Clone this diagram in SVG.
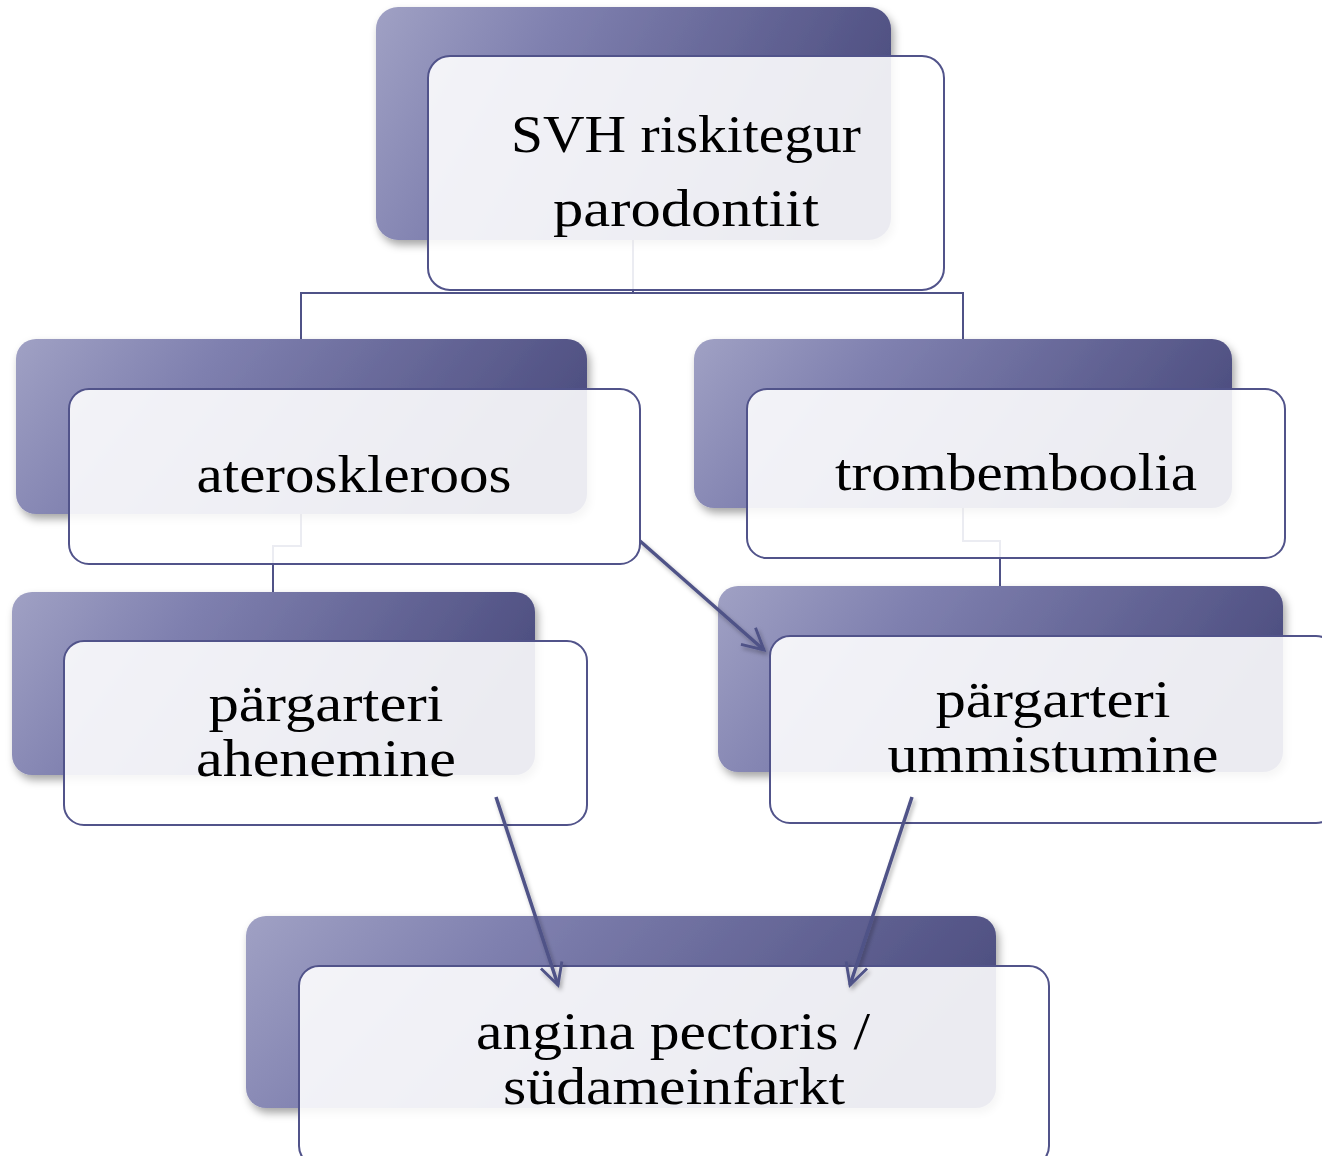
<svg xmlns="http://www.w3.org/2000/svg" width="1322" height="1156" viewBox="0 0 1322 1156">
<defs>
<linearGradient id="g" x1="0" y1="0" x2="1" y2="0.25">
<stop offset="0" stop-color="#a0a1c4"/>
<stop offset="0.35" stop-color="#7f80af"/>
<stop offset="1" stop-color="#4f5082"/>
</linearGradient>
<filter id="sh" x="-10%" y="-10%" width="125%" height="130%">
<feDropShadow dx="3" dy="5" stdDeviation="4" flood-color="#000" flood-opacity="0.35"/>
</filter>
<filter id="ash" x="-20%" y="-20%" width="140%" height="140%">
<feDropShadow dx="2" dy="3" stdDeviation="2" flood-color="#000" flood-opacity="0.3"/>
</filter>
<marker id="ah" viewBox="0 0 10 10" refX="9" refY="5" markerWidth="7.5" markerHeight="7.5" orient="auto" markerUnits="strokeWidth">
<path d="M1,0.8 L9,5 L1,9.2" fill="none" stroke="#4f5287" stroke-width="1.1"/>
</marker>
</defs>
<style>
.back{fill:url(#g);filter:url(#sh)}
.front{fill:#ffffff;fill-opacity:0.89;stroke:#51538a;stroke-width:2}
.t{font-family:"Liberation Serif","DejaVu Serif",serif;font-size:52px;fill:#000;text-anchor:middle}
.conn{fill:none;stroke:#4f5287;stroke-width:2}
.arr{fill:none;stroke:#4f5287;stroke-width:3.5;marker-end:url(#ah);filter:url(#ash)}
</style>
<rect width="1322" height="1156" fill="#fff"/>
<g id="connectors">
<path class="conn" d="M633,240 V293 H301 V339 M633,293 H963 V339"/>
<path class="conn" d="M301,514 V546 H273 V592"/>
<path class="conn" d="M963,508 V541 H1000 V586"/>
</g>
<g id="n1">
<rect class="back" x="376" y="7" width="515" height="233" rx="22"/>
<rect class="front" x="428" y="56" width="516" height="234" rx="22"/>
<text class="t" x="686" y="152" textLength="350" lengthAdjust="spacingAndGlyphs">SVH riskitegur</text>
<text class="t" x="686" y="226" textLength="266" lengthAdjust="spacingAndGlyphs">parodontiit</text>
</g>
<g id="n2">
<rect class="back" x="16" y="339" width="571" height="175" rx="20"/>
<rect class="front" x="69" y="389" width="571" height="175" rx="20"/>
<text class="t" x="354" y="492" textLength="315" lengthAdjust="spacingAndGlyphs">ateroskleroos</text>
</g>
<g id="n3">
<rect class="back" x="694" y="339" width="538" height="169" rx="20"/>
<rect class="front" x="747" y="389" width="538" height="169" rx="20"/>
<text class="t" x="1016" y="490" textLength="362" lengthAdjust="spacingAndGlyphs">trombemboolia</text>
</g>
<g id="n4">
<rect class="back" x="12" y="592" width="523" height="183" rx="20"/>
<rect class="front" x="64" y="641" width="523" height="184" rx="20"/>
<text class="t" x="326" y="721" textLength="235" lengthAdjust="spacingAndGlyphs">pärgarteri</text>
<text class="t" x="326" y="776" textLength="260" lengthAdjust="spacingAndGlyphs">ahenemine</text>
</g>
<g id="n5">
<rect class="back" x="718" y="586" width="565" height="186" rx="20"/>
<rect class="front" x="770" y="636" width="566" height="187" rx="20"/>
<text class="t" x="1053" y="717" textLength="235" lengthAdjust="spacingAndGlyphs">pärgarteri</text>
<text class="t" x="1053" y="772" textLength="331" lengthAdjust="spacingAndGlyphs">ummistumine</text>
</g>
<g id="n6">
<rect class="back" x="246" y="916" width="750" height="192" rx="20"/>
<rect class="front" x="299" y="966" width="750" height="200" rx="20"/>
<text class="t" x="673" y="1049" textLength="394" lengthAdjust="spacingAndGlyphs">angina pectoris /</text>
<text class="t" x="674" y="1104" textLength="342" lengthAdjust="spacingAndGlyphs">südameinfarkt</text>
</g>
<g id="arrows">
<line class="arr" x1="640" y1="541" x2="764" y2="650"/>
<line class="arr" x1="496" y1="797" x2="558" y2="985"/>
<line class="arr" x1="912" y1="797" x2="850" y2="985"/>
</g>
</svg>
